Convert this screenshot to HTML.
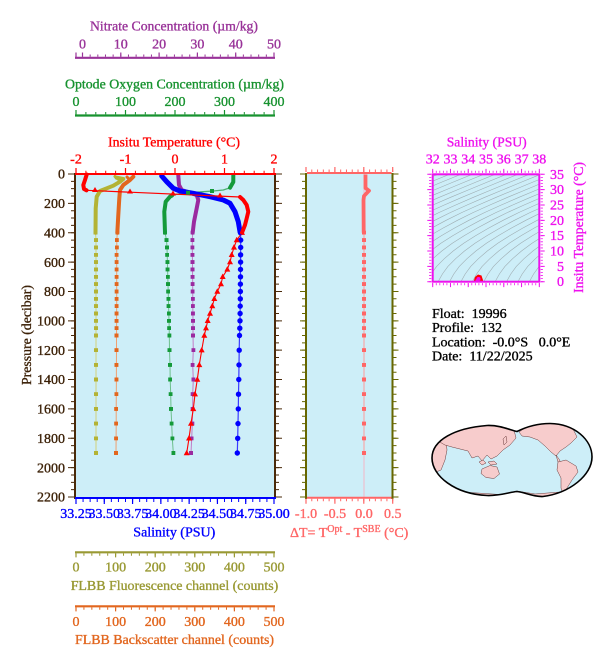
<!DOCTYPE html>
<html><head><meta charset="utf-8"><style>
html,body{margin:0;padding:0;background:#fff;}
svg{display:block;}
text{font-family:"Liberation Serif",serif;font-size:14px;stroke-width:0.35px;}
.cP{fill:#993399;stroke:#993399}
.cG{fill:#17922f;stroke:#17922f}
.cR{fill:#ff0000;stroke:#ff0000}
.cB{fill:#0000ff;stroke:#0000ff}
.cO{fill:#999933;stroke:#999933}
.cE{fill:#e2661e;stroke:#e2661e}
.cK{fill:#ff6666;stroke:#ff6666}
.cM{fill:#ee11ee;stroke:#ee11ee}
.cD{fill:#3a1f05;stroke:#3a1f05}
.cN{fill:#000;stroke:#000}
</style></head><body>
<svg width="609" height="663" viewBox="0 0 609 663" xmlns="http://www.w3.org/2000/svg">
<defs>
<marker id="mOl" markerWidth="4" markerHeight="4" refX="2" refY="2" markerUnits="userSpaceOnUse"><rect width="4" height="4" fill="#b3b335"/></marker>
<marker id="mOr" markerWidth="4" markerHeight="4" refX="2" refY="2" markerUnits="userSpaceOnUse"><rect width="4" height="4" fill="#e2661e"/></marker>
<marker id="mGr" markerWidth="4" markerHeight="4" refX="2" refY="2" markerUnits="userSpaceOnUse"><rect width="4" height="4" fill="#149a3a"/></marker>
<marker id="mPu" markerWidth="4" markerHeight="4" refX="2" refY="2" markerUnits="userSpaceOnUse"><rect width="4" height="4" fill="#9a2aa0"/></marker>
<marker id="mBl" markerWidth="6" markerHeight="6" refX="3" refY="3" markerUnits="userSpaceOnUse"><circle cx="3" cy="3" r="2.7" fill="#0000ff"/></marker>
<marker id="mRd" markerWidth="6" markerHeight="6" refX="3" refY="3.3" markerUnits="userSpaceOnUse"><path d="M0,5.5 L3,0 L6,5.5 Z" fill="#ff0000"/></marker>
<marker id="mPk" markerWidth="4" markerHeight="4" refX="2" refY="2" markerUnits="userSpaceOnUse"><rect width="4" height="4" fill="#ff6666"/></marker>
<clipPath id="tsclip"><rect x="432.7" y="174.3" width="106.6" height="107.4"/></clipPath>
<clipPath id="mapclip"><path d="M432,458 C432,440 455,428 487,425.5 C500,425 510,430 517,431.5 C524,428 535,423.5 550,423.5 C575,424 592,440 592,457 C592,475 570,493 543,496.5 C533,497 524,492 517,491.5 C510,492 500,496 487,495.5 C455,494 432,476 432,458 Z"/></clipPath>
<path id="iso" d="M-1.5,285 L0,281.7 L4.3,274 L9.8,266.4 L17.5,258.7 L26.4,251 L36.9,243.3 L48.7,235.7 L62,228 L76.3,220.3 L91.8,212.6 L108.7,205 L126.4,197.3 L144.9,189.6 L163.3,182 L182.2,174.3 L197,168" fill="none" stroke="#9fadb2" stroke-width="0.6"/>
</defs>

<!-- ===== TOP AXES ===== -->
<text class="cP" x="90" y="30.7" textLength="168" lengthAdjust="spacingAndGlyphs">Nitrate Concentration (µm/kg)</text>
<g text-anchor="middle">
<text class="cP" x="82.5" y="48.3">0</text><text class="cP" x="120.8" y="48.3">10</text><text class="cP" x="159.1" y="48.3">20</text><text class="cP" x="197.4" y="48.3">30</text><text class="cP" x="235.7" y="48.3">40</text><text class="cP" x="274" y="48.3">50</text>
</g>
<line x1="75" y1="57.8" x2="275" y2="57.8" stroke="#993399" stroke-width="2.2"/>
<line x1="82" y1="55.6" x2="275" y2="55.6" stroke="#993399" stroke-width="2.2" stroke-dasharray="1 6.66"/>
<line x1="81.9" y1="54.6" x2="275" y2="54.6" stroke="#993399" stroke-width="4.2" stroke-dasharray="1.2 37.1"/>
<line x1="76" y1="52.5" x2="76" y2="57" stroke="#993399" stroke-width="1.2"/>

<text class="cG" x="65" y="88.3" textLength="219" lengthAdjust="spacingAndGlyphs">Optode Oxygen Concentration (µm/kg)</text>
<g text-anchor="middle">
<text class="cG" x="76" y="106">0</text><text class="cG" x="125.5" y="106">100</text><text class="cG" x="175" y="106">200</text><text class="cG" x="224.5" y="106">300</text><text class="cG" x="274" y="106">400</text>
</g>
<line x1="75" y1="115.5" x2="275" y2="115.5" stroke="#17922f" stroke-width="2.2"/>
<line x1="75.5" y1="113.2" x2="275" y2="113.2" stroke="#17922f" stroke-width="2.4" stroke-dasharray="1 8.9"/>
<line x1="75.4" y1="112.2" x2="275" y2="112.2" stroke="#17922f" stroke-width="4.4" stroke-dasharray="1.2 48.3"/>

<text class="cR" x="108" y="146.7" textLength="132" lengthAdjust="spacingAndGlyphs">Insitu Temperature (°C)</text>
<g text-anchor="middle">
<text class="cR" x="76" y="163.3">-2</text><text class="cR" x="125.5" y="163.3">-1</text><text class="cR" x="175" y="163.3">0</text><text class="cR" x="224.5" y="163.3">1</text><text class="cR" x="274" y="163.3">2</text>
</g>

<!-- ===== MAIN PLOT ===== -->
<rect x="76" y="174" width="198" height="323" fill="#cdeef8"/>

<polyline fill="none" stroke="#d2d27a" stroke-width="1" marker-start="url(#mOl)" marker-mid="url(#mOl)" marker-end="url(#mOl)" points="95.5,232.7 96,240.1 96,247.4 96,254.8 96,262.1 96,269.4 96,276.8 96,284.1 96,291.5 96,298.8 96,306.1 96,313.5 96,320.8 96,328.2 96,335.5 96,350.2 96,364.9 96,379.5 96,394.2 96,408.9 96,423.6 96,438.3 96,453"/>
<polyline fill="none" stroke="#f0a070" stroke-width="1" marker-start="url(#mOr)" marker-mid="url(#mOr)" marker-end="url(#mOr)" points="117.3,232.7 116.8,240.1 116.8,247.4 116.7,254.8 116.7,262.1 116.7,269.4 116.7,276.8 116.7,284.1 116.7,291.5 116.7,298.8 116.7,306.1 116.6,313.5 116.6,320.8 116.6,328.2 116.5,335.5 116.5,350.2 116.4,364.9 116.4,379.5 116.3,394.2 116.2,408.9 116.2,423.6 116.1,438.3 116,453"/>
<polyline fill="none" stroke="#6cc08c" stroke-width="1" marker-start="url(#mGr)" marker-mid="url(#mGr)" marker-end="url(#mGr)" points="165,232.7 166.5,240.1 167,247.4 167.2,254.8 167.4,262.1 167.6,269.4 167.8,276.8 168,284.1 168.2,291.5 168.4,298.8 168.6,306.1 168.8,313.5 169,320.8 169.2,328.2 169.3,335.5 169.5,350.2 170,364.9 170.2,379.5 170.7,394.2 171,408.9 171.7,423.6 172.3,438.3 173.3,453"/>
<polyline fill="none" stroke="#c27cc6" stroke-width="1" marker-start="url(#mPu)" marker-mid="url(#mPu)" marker-end="url(#mPu)" points="192.7,232.7 192.3,240.1 192.3,247.4 192.4,254.8 192.5,262.1 192.5,269.4 192.6,276.8 192.7,284.1 192.7,291.5 192.8,298.8 192.8,306.1 192.9,313.5 193,320.8 193,328.2 193,335.5 193.3,350.2 192.7,364.9 193.3,379.5 192.7,394.2 192.7,408.9 192.3,423.6 191.7,438.3 191,453"/>
<polyline fill="none" stroke="#3a3aff" stroke-width="1.2" marker-start="url(#mBl)" marker-mid="url(#mBl)" marker-end="url(#mBl)" points="240.5,232.7 240.7,240.1 240.7,247.4 240.6,254.8 240.6,262.1 240.5,269.4 240.5,276.8 240.4,284.1 240.4,291.5 240.3,298.8 240.2,306.1 240.1,313.5 240,320.8 239.8,328.2 239.5,335.5 239.2,350.2 239,364.9 238.8,379.5 238.5,394.2 238.3,408.9 238,423.6 237.7,438.3 237.3,453"/>
<polyline fill="none" stroke="#ff0000" stroke-width="1.1" marker-start="url(#mRd)" marker-mid="url(#mRd)" marker-end="url(#mRd)" points="242,232.7 236.7,240.1 234,247.4 231.7,254.8 230,262.1 227.3,269.4 222.7,276.8 221,284.1 217.3,291.5 214.3,298.8 212.3,306.1 210,313.5 207.7,320.8 206,328.2 204.3,335.5 201.7,350.2 199.3,364.9 197.3,379.5 195,394.2 193.3,408.9 191,423.6 189,438.3 186.7,453"/>

<g fill="none" stroke-linejoin="round" stroke-linecap="round">
<path d="M116.7,177.7 L123.3,179 L120,181.7 L113.3,185.7 L106.7,188.3 L100,191 L96.7,196.7 L95.7,208.3 L95.5,232.7" stroke="#b3b335" stroke-width="4"/>
<path d="M115,176.5 L118,179" stroke="#b3b335" stroke-width="3"/>
<path d="M133.3,176.7 L130,180 L123.3,185 L120,190 L119.3,198.3 L118.3,215 L117.3,232.7" stroke="#e2661e" stroke-width="4"/>
<path d="M127,177 L130,180" stroke="#e2661e" stroke-width="3"/>
<path d="M230,187.7 L223.3,190 L213.3,191 L203.3,191.7 L190,192.7 L176.7,194.3 L170,196.7" stroke="#4cb070" stroke-width="1.3"/>
<path d="M233.3,175.5 L233.3,182 L230,187.7" stroke="#149a3a" stroke-width="4"/>
<path d="M172,195.5 L170,196.7 L165.7,201.7 L164.3,211.7 L165,232.7" stroke="#149a3a" stroke-width="4"/>
<path d="M178.3,175.5 L179,185 L181.7,190 L188.3,192.3 L196.7,195 L198.3,200 L196.7,208.3 L194,221.7 L192.7,232.7" stroke="#9a2aa0" stroke-width="4"/>
<path d="M161.7,176 L166.7,181.7 L173.3,188.3 L180,191 L193.3,193.3 L210,196.7 L223.3,200 L230,203.3 L235,211.7 L238.3,221.7 L240,231.7 L240.5,232.7" stroke="#0000ff" stroke-width="5"/>
<path d="M86.5,190.3 L240,197" stroke="#ff0000" stroke-width="1.2"/>
<path d="M86.7,174.5 L85,180 L83.3,185 L84,189 L86.5,190.3" stroke="#ff0000" stroke-width="4"/>
<path d="M240,197 L243.3,200 L246.7,205 L248.3,211.7 L246.7,218.3 L245,225 L242,232.7" stroke="#ff0000" stroke-width="4"/>
</g>
<g fill="#ff0000">
<path d="M92,192 L95,187 L98,192 Z"/><path d="M127,193.5 L130,188.5 L133,193.5 Z"/><path d="M170,195.5 L173,190.5 L176,195.5 Z"/><path d="M217,197.5 L220,192.5 L223,197.5 Z"/>
</g>
<g fill="#149a3a"><rect x="210" y="189" width="4" height="4"/><rect x="186" y="190.7" width="4" height="4"/></g>

<line x1="75" y1="173" x2="75" y2="499" stroke="#4a2a0a" stroke-width="2"/>
<line x1="72.5" y1="173.5" x2="72.5" y2="498" stroke="#4a2a0a" stroke-width="3" stroke-dasharray="1 6.341"/>
<line x1="71" y1="173.5" x2="71" y2="498" stroke="#4a2a0a" stroke-width="6" stroke-dasharray="1 28.364"/>
<line x1="275" y1="173" x2="275" y2="499" stroke="#4a2a0a" stroke-width="2"/>
<line x1="277.5" y1="173.5" x2="277.5" y2="498" stroke="#4a2a0a" stroke-width="3" stroke-dasharray="1 6.341"/>
<line x1="279" y1="173.5" x2="279" y2="498" stroke="#4a2a0a" stroke-width="6" stroke-dasharray="1 28.364"/>
<line x1="75" y1="174" x2="276" y2="174" stroke="#ff0000" stroke-width="2"/>
<line x1="75.5" y1="171.85" x2="275" y2="171.85" stroke="#ff0000" stroke-width="2.3" stroke-dasharray="1 8.9"/>
<line x1="75.4" y1="170.5" x2="275" y2="170.5" stroke="#ff0000" stroke-width="5" stroke-dasharray="1.2 48.3"/>
<line x1="75" y1="498" x2="276" y2="498" stroke="#0000ff" stroke-width="2"/>
<line x1="75.5" y1="500.5" x2="275" y2="500.5" stroke="#0000ff" stroke-width="3" stroke-dasharray="1 6.071"/>
<line x1="75.4" y1="501.5" x2="275" y2="501.5" stroke="#0000ff" stroke-width="5" stroke-dasharray="1.2 27.086"/>

<g text-anchor="end">
<text class="cD" x="65" y="178.7">0</text><text class="cD" x="65" y="208.1">200</text><text class="cD" x="65" y="237.4">400</text><text class="cD" x="65" y="266.8">600</text><text class="cD" x="65" y="296.2">800</text><text class="cD" x="65" y="325.5">1000</text><text class="cD" x="65" y="354.9">1200</text><text class="cD" x="65" y="384.2">1400</text><text class="cD" x="65" y="413.6">1600</text><text class="cD" x="65" y="443">1800</text><text class="cD" x="65" y="472.3">2000</text><text class="cD" x="65" y="501.7">2200</text>
</g>
<text class="cD" transform="translate(31,335) rotate(-90)" text-anchor="middle" textLength="100" lengthAdjust="spacingAndGlyphs">Pressure (decibar)</text>

<g text-anchor="middle">
<text class="cB" x="76" y="518">33.25</text><text class="cB" x="104.3" y="518">33.50</text><text class="cB" x="132.6" y="518">33.75</text><text class="cB" x="160.9" y="518">34.00</text><text class="cB" x="189.1" y="518">34.25</text><text class="cB" x="217.4" y="518">34.50</text><text class="cB" x="245.7" y="518">34.75</text><text class="cB" x="274" y="518">35.00</text>
</g>
<text class="cB" x="133.3" y="536.7" textLength="82" lengthAdjust="spacingAndGlyphs">Salinity (PSU)</text>

<line x1="75" y1="552.3" x2="275" y2="552.3" stroke="#999933" stroke-width="2.2"/>
<line x1="75.5" y1="554.6" x2="275" y2="554.6" stroke="#999933" stroke-width="2.4" stroke-dasharray="1 6.92"/>
<line x1="75.4" y1="555.4" x2="275" y2="555.4" stroke="#999933" stroke-width="4" stroke-dasharray="1.2 38.4"/>
<g text-anchor="middle">
<text class="cO" x="76" y="571.7">0</text><text class="cO" x="115.6" y="571.7">100</text><text class="cO" x="155.2" y="571.7">200</text><text class="cO" x="194.8" y="571.7">300</text><text class="cO" x="234.4" y="571.7">400</text><text class="cO" x="274" y="571.7">500</text>
</g>
<text class="cO" x="70.7" y="590" textLength="207.6" lengthAdjust="spacingAndGlyphs">FLBB Fluorescence channel (counts)</text>

<line x1="75" y1="606.3" x2="275" y2="606.3" stroke="#e2661e" stroke-width="2.2"/>
<line x1="75.5" y1="608.6" x2="275" y2="608.6" stroke="#e2661e" stroke-width="2.4" stroke-dasharray="1 6.92"/>
<line x1="75.4" y1="609.4" x2="275" y2="609.4" stroke="#e2661e" stroke-width="4" stroke-dasharray="1.2 38.4"/>
<g text-anchor="middle">
<text class="cE" x="76" y="626">0</text><text class="cE" x="115.6" y="626">100</text><text class="cE" x="155.2" y="626">200</text><text class="cE" x="194.8" y="626">300</text><text class="cE" x="234.4" y="626">400</text><text class="cE" x="274" y="626">500</text>
</g>
<text class="cE" x="75" y="644" textLength="199" lengthAdjust="spacingAndGlyphs">FLBB Backscatter channel (counts)</text>

<!-- ===== DELTA T PANEL ===== -->
<rect x="306" y="174" width="86.5" height="323" fill="#cdeef8"/>
<line x1="364" y1="174" x2="364" y2="497" stroke="#f2b6c6" stroke-width="1"/>
<polyline fill="none" stroke="#ff9a9a" stroke-width="1" marker-start="url(#mPk)" marker-mid="url(#mPk)" marker-end="url(#mPk)" points="364,232.7 364,240.1 364,247.4 364,254.8 364,262.1 364,269.4 364,276.8 364,284.1 364,291.5 364,298.8 364,306.1 364,313.5 364,320.8 364,328.2 364,335.5 364,350.2 364,364.9 364,379.5 364,394.2 364,408.9 364,423.6 364,438.3 364,453"/>
<path d="M365.5,174.5 L365.5,188 L369,190.7 L364,196 L363.5,200 L363.7,232.7" fill="none" stroke="#ff6666" stroke-width="3.8" stroke-linejoin="round"/>
<line x1="306" y1="173" x2="306" y2="499" stroke="#666600" stroke-width="2"/>
<line x1="303.5" y1="173.5" x2="303.5" y2="498" stroke="#666600" stroke-width="3" stroke-dasharray="1 6.341"/>
<line x1="302.5" y1="173.5" x2="302.5" y2="498" stroke="#666600" stroke-width="5" stroke-dasharray="1 28.364"/>
<line x1="392.5" y1="173" x2="392.5" y2="499" stroke="#666600" stroke-width="2"/>
<line x1="395" y1="173.5" x2="395" y2="498" stroke="#666600" stroke-width="3" stroke-dasharray="1 6.341"/>
<line x1="396" y1="173.5" x2="396" y2="498" stroke="#666600" stroke-width="5" stroke-dasharray="1 28.364"/>
<line x1="307" y1="173" x2="391.5" y2="173" stroke="#ff6666" stroke-width="2"/>
<line x1="305.5" y1="170.8" x2="394" y2="170.8" stroke="#ff6666" stroke-width="2.5" stroke-dasharray="1 4.78"/>
<line x1="305.4" y1="169.5" x2="394" y2="169.5" stroke="#ff6666" stroke-width="5" stroke-dasharray="1.2 27.7"/>
<line x1="307" y1="497.8" x2="391.5" y2="497.8" stroke="#ff6666" stroke-width="2"/>
<line x1="305.5" y1="500" x2="394" y2="500" stroke="#ff6666" stroke-width="2.5" stroke-dasharray="1 4.78"/>
<line x1="305.4" y1="501.2" x2="394" y2="501.2" stroke="#ff6666" stroke-width="5" stroke-dasharray="1.2 27.7"/>
<g text-anchor="middle">
<text class="cK" x="306" y="518">-1.0</text><text class="cK" x="335" y="518">-0.5</text><text class="cK" x="364" y="518">0.0</text><text class="cK" x="392.7" y="518">0.5</text>
</g>
<text class="cK" x="290" y="537">ΔT= T<tspan font-size="10" dy="-5">Opt</tspan><tspan dy="5"> - T</tspan><tspan font-size="10" dy="-5">SBE</tspan><tspan dy="5"> (°C)</tspan></text>

<!-- ===== T-S PANEL ===== -->
<text class="cM" x="446.7" y="146.7" textLength="80" lengthAdjust="spacingAndGlyphs">Salinity (PSU)</text>
<g text-anchor="middle">
<text class="cM" x="432.7" y="163.3">32</text><text class="cM" x="450.5" y="163.3">33</text><text class="cM" x="468.2" y="163.3">34</text><text class="cM" x="486" y="163.3">35</text><text class="cM" x="503.8" y="163.3">36</text><text class="cM" x="521.6" y="163.3">37</text><text class="cM" x="539.3" y="163.3">38</text>
</g>
<g text-anchor="end">
<text class="cM" x="564" y="286.2">0</text><text class="cM" x="564" y="270.9">5</text><text class="cM" x="564" y="255.5">10</text><text class="cM" x="564" y="240.2">15</text><text class="cM" x="564" y="224.8">20</text><text class="cM" x="564" y="209.5">25</text><text class="cM" x="564" y="194.1">30</text><text class="cM" x="564" y="178.8">35</text>
</g>
<text class="cM" transform="translate(583,227.5) rotate(-90)" text-anchor="middle" textLength="131" lengthAdjust="spacingAndGlyphs">Insitu Temperature (°C)</text>
<rect x="432.7" y="174.3" width="106.6" height="107.4" fill="#cdeef8"/>
<g clip-path="url(#tsclip)">
<use href="#iso" x="255.9"/><use href="#iso" x="267.3"/><use href="#iso" x="278.7"/><use href="#iso" x="290.1"/><use href="#iso" x="301.5"/>
<use href="#iso" x="312.9"/><use href="#iso" x="324.2"/><use href="#iso" x="335.6"/><use href="#iso" x="347"/><use href="#iso" x="358.4"/>
<use href="#iso" x="369.8"/><use href="#iso" x="381.2"/><use href="#iso" x="392.6"/><use href="#iso" x="404"/><use href="#iso" x="415.4"/>
<use href="#iso" x="426.8"/><use href="#iso" x="438.1"/><use href="#iso" x="449.5"/><use href="#iso" x="460.9"/><use href="#iso" x="472.3"/>
<use href="#iso" x="483.7"/><use href="#iso" x="495.1"/><use href="#iso" x="506.5"/><use href="#iso" x="517.9"/><use href="#iso" x="529.3"/>
<path d="M473.5,281.7 L475,277 L478,274.5 L481.5,275.5 L483.5,281.7 Z" fill="#ff0000"/>
<circle cx="478.5" cy="279" r="2" fill="#ee11ee"/>
<circle cx="477" cy="280.5" r="1.5" fill="#ee11ee"/>
</g>
<rect x="432.7" y="174.3" width="106.6" height="107.4" fill="none" stroke="#ee11ee" stroke-width="2"/>
<line x1="432.3" y1="171.8" x2="540" y2="171.8" stroke="#ee11ee" stroke-width="2.2" stroke-dasharray="0.8 2.754"/>
<line x1="432.2" y1="170.9" x2="540" y2="170.9" stroke="#ee11ee" stroke-width="4" stroke-dasharray="1 16.77"/>
<line x1="432.3" y1="284.2" x2="540" y2="284.2" stroke="#ee11ee" stroke-width="2.2" stroke-dasharray="0.8 2.754"/>
<line x1="432.2" y1="285.1" x2="540" y2="285.1" stroke="#ee11ee" stroke-width="4" stroke-dasharray="1 16.77"/>
<line x1="541.8" y1="282.1" x2="541.8" y2="173.5" stroke="#ee11ee" stroke-width="2.2" stroke-dasharray="0.8 2.269"/>
<line x1="542.7" y1="282.2" x2="542.7" y2="173.5" stroke="#ee11ee" stroke-width="4" stroke-dasharray="1 14.345"/>
<line x1="430.2" y1="282.1" x2="430.2" y2="173.5" stroke="#ee11ee" stroke-width="2.2" stroke-dasharray="0.8 2.269"/>
<line x1="429.3" y1="282.2" x2="429.3" y2="173.5" stroke="#ee11ee" stroke-width="4" stroke-dasharray="1 14.345"/>

<!-- ===== INFO ===== -->
<text class="cN" x="432" y="318">Float:&#160; 19996</text>
<text class="cN" x="432" y="332">Profile:&#160; 132</text>
<text class="cN" x="432" y="346.5">Location:&#160; -0.0°S&#160;&#160; 0.0°E</text>
<text class="cN" x="432" y="360.5">Date:&#160; 11/22/2025</text>

<!-- ===== MAP ===== -->
<path d="M432,458 C432,440 455,428 487,425.5 C500,425 510,430 517,431.5 C524,428 535,423.5 550,423.5 C575,424 592,440 592,457 C592,475 570,493 543,496.5 C533,497 524,492 517,491.5 C510,492 500,496 487,495.5 C455,494 432,476 432,458 Z" fill="#cdeef8"/>
<g clip-path="url(#mapclip)" fill="#f7cccc" stroke="#6a3a3a" stroke-width="0.5">
<path d="M430,444 L438,437 L446,440 L447,450 L445,460 L441,470 L436,472 L431,462 Z"/>
<path d="M438,441 L446,433 L460,428 L478,425 L500,425 L514,430 L516,438 L510,445 L503,450 L497,456 L491,459 L487,455 L482,461 L478,456 L472,458 L468,451 L460,449 L452,447 L445,445 Z"/>
<path d="M479,462 L483,460 L486,463 L482,465 Z"/>
<path d="M488,462 L494,461 L497,464 L491,465 Z"/>
<path d="M503,439 L506,436 L507,442 L504,445 Z"/>
<path d="M482,469 L490,465.5 L497,467 L499.5,474 L494,478.5 L486,477.5 L481,473.5 Z"/>
<path d="M519,432 L528,426 L545,422 L562,423 L573,429 L577,437 L571,443 L566,447 L560,451 L556,456 L551,452 L545,446 L538,440 L530,437 L522,436 Z"/>
<path d="M556,455 L559,459 L561,463 L558,462 Z"/>
<path d="M558,462 L566,460 L576,466 L578,472 L572,480 L567,488 L563,495 L561,488 L561,478 L557,470 Z"/>
<path d="M430,492 L470,492.5 L500,494.5 L517,491 L535,494 L560,492 L595,490 L595,500 L430,500 Z"/>
</g>
<path d="M432,458 C432,440 455,428 487,425.5 C500,425 510,430 517,431.5 C524,428 535,423.5 550,423.5 C575,424 592,440 592,457 C592,475 570,493 543,496.5 C533,497 524,492 517,491.5 C510,492 500,496 487,495.5 C455,494 432,476 432,458 Z" fill="none" stroke="#000" stroke-width="1.6"/>
</svg>
</body></html>
